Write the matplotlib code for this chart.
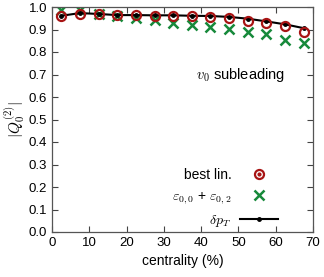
import matplotlib
matplotlib.use('Agg')
import matplotlib.pyplot as plt
from matplotlib.lines import Line2D

plt.rcParams['font.family'] = ['Liberation Sans', 'DejaVu Sans']
plt.rcParams['mathtext.fontset'] = 'cm'

# Data
centrality = [2.5, 7.5, 12.5, 17.5, 22.5, 27.5, 32.5, 37.5, 42.5, 47.5, 52.5, 57.5, 62.5, 67.5]
best_lin = [0.961, 0.970, 0.967, 0.964, 0.964, 0.961, 0.961, 0.958, 0.954, 0.950, 0.940, 0.928, 0.917, 0.891]
eps_sum = [0.987, 0.987, 0.970, 0.958, 0.951, 0.941, 0.930, 0.918, 0.910, 0.904, 0.888, 0.878, 0.855, 0.842]
dpt = [0.961, 0.973, 0.969, 0.964, 0.964, 0.963, 0.963, 0.961, 0.960, 0.956, 0.948, 0.936, 0.923, 0.906]

red = '#a81414'
green = '#16893a'

fig = plt.figure(figsize=(3.24, 2.77), dpi=100)
ax = fig.add_axes([52 / 324, 1 - 232 / 277, 261 / 324, 225 / 277])

ax.plot(centrality, dpt, '-', color='black', lw=1.5, marker='o', ms=2.5, zorder=3)
ax.plot(centrality, best_lin, 'o', mfc='none', mec=red, mew=1.6, ms=6.5, zorder=4)
ax.plot(centrality, eps_sum, 'x', color=green, mew=1.8, ms=6.8, zorder=2)

ax.set_xlim(0, 70)
ax.set_ylim(0, 1)
ax.set_xticks(range(0, 71, 10))
ax.set_yticks([i / 10 for i in range(11)])
ax.yaxis.set_major_formatter(matplotlib.ticker.FormatStrFormatter('%.1f'))
ax.tick_params(direction='in', top=True, right=True, labelsize=9.5, length=4, width=0.8, color='#444444')
for s in ax.spines.values():
    s.set_color('#555555')
    s.set_linewidth(0.9)

ax.set_xlabel('centrality (%)', fontsize=10, labelpad=4)
ax.set_ylabel(r'$|Q_0^{(2)}|$', fontsize=11, labelpad=1)

ax.text(62.6, 0.70, r'$v_0$ subleading', ha='right', va='center', fontsize=10.5)

h_best = (Line2D([], [], ls='none', marker='o', mfc='none', mec=red, mew=1.6, ms=6.5),
          Line2D([], [], ls='none', marker='o', color=red, ms=2))
h_eps = Line2D([], [], ls='none', marker='x', color=green, mew=1.8, ms=6.8)
h_dpt = Line2D([], [], color='black', lw=1.5, marker='o', ms=2.5)
ax.legend([h_best, h_eps, h_dpt],
          ['best lin.', r'$\varepsilon_{0,0}$ + $\varepsilon_{0,2}$', r'$\delta p_T$'],
          loc='lower right', markerfirst=False, frameon=False, fontsize=10,
          handlelength=2.75, handletextpad=0.6, labelspacing=0.5, borderaxespad=0.0,
          borderpad=0.0, bbox_to_anchor=(0.866, 0.013))

fig.savefig('out.png', dpi=100)
